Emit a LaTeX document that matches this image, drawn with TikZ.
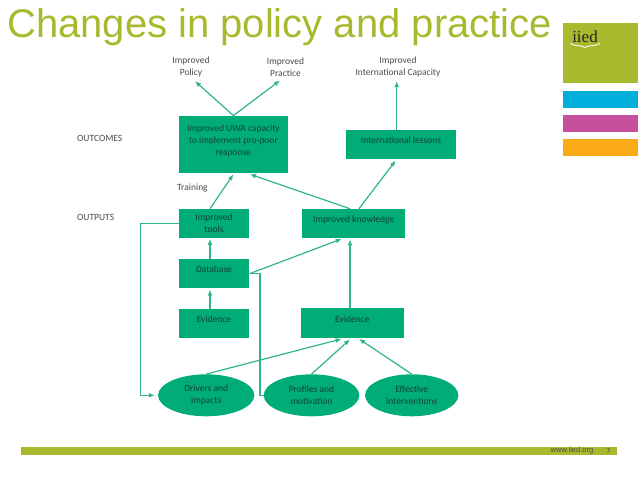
\documentclass[tikz,border=0pt]{standalone}
\usepackage{fontspec}
\usepackage{xcolor}
\setmainfont{Liberation Sans}
\newfontfamily\labelfont{Carlito}
\newfontfamily\logofont{Liberation Serif}
\definecolor{scheme}{HTML}{00AC78}
\definecolor{link}{HTML}{30B48C}
\definecolor{olive}{HTML}{A8B92E}
\definecolor{boxtext}{HTML}{0F4634}
\definecolor{plain}{HTML}{4A4A4A}
\definecolor{bandcyan}{HTML}{00AEDB}
\definecolor{bandpink}{HTML}{C7509E}
\definecolor{bandgold}{HTML}{FBAB18}
\usetikzlibrary{shapes.geometric,arrows.meta}
\tikzset{
	boxnode/.style={fill=scheme,draw=none,inner sep=0pt,align=center,text=boxtext,font=\labelfont\fontsize{9.5}{11.8}\selectfont},
	raised/.style={text depth=8.5pt},
	ovalnode/.style={boxnode,ellipse},
	plainlabel/.style={inner sep=0pt,align=center,text=plain,font=\labelfont\fontsize{9.5}{11.8}\selectfont},
	link/.style={draw=link,line width=1.2pt,-{Latex[length=6pt,width=5pt]}},
	linkplain/.style={draw=link,line width=1.2pt},
	band/.style={fill=#1,draw=none}
}
\begin{document}
\begin{tikzpicture}[x=1pt,y=-1pt]
			\useasboundingbox (0,0) rectangle (638,479);
			\coordinate (loopa) at (140.7,395.3);
			\coordinate (loopb) at (260,395.3);
			
			% slide furniture
			\node (title) at (7,27) [anchor=west,inner sep=0pt,text=olive,font=\fontsize{40}{40}\selectfont] {Changes in policy and practice};
			\fill[band=olive] (562.7,22.7) rectangle (638,82.7);
			\fill[band=bandcyan] (562.7,91) rectangle (638,108);
			\fill[band=bandpink] (562.7,115) rectangle (638,132);
			\fill[band=bandgold] (562.7,139) rectangle (638,156);
			\node (logo) at (585,37) [inner sep=0pt,text=black!85,font=\logofont\fontsize{17}{17}\selectfont] {iied};
			\draw[white,line width=0.9pt] (570,43.5) .. controls (575,46.5) and (582,45) .. (585,47.5) .. controls (588,45) and (595,46.5) .. (600,43.5);
			\fill[band=olive] (21,446.7) rectangle (616.7,455);
			\node (web) at (572,451) [inner sep=0pt,text=black!70,font=\fontsize{7.5}{8}\selectfont] {www.iied.org};
			\node (page) at (608.5,451) [inner sep=0pt,text=black!70,font=\fontsize{7.5}{8}\selectfont] {7};
			
			% side labels
			\node (outcomes) at (77,138) [plainlabel,anchor=west] {OUTCOMES};
			\node (outputs) at (77,217) [plainlabel,anchor=west] {OUTPUTS};
			\node (training) at (177,188) [plainlabel,anchor=west] {Training};
			
			% top labels
			\node (policy) at (191,67) [plainlabel] {Improved\\Policy};
			\node (practice) at (285.5,67) [plainlabel] {Improved\\Practice};
			\node (capacity) at (398,67) [plainlabel] {Improved\\International Capacity};
			
			% boxes
			\node (uwa) at (233.4,144.4) [boxnode,raised,minimum width=109.3pt,minimum height=57.3pt] {Improved UWA capacity\\to implement pro-poor\\response};
			\node (lessons) at (401,144.8) [boxnode,raised,minimum width=109.4pt,minimum height=29pt] {International lessons};
			\node (tools) at (214,223.3) [boxnode,minimum width=70.6pt,minimum height=28.7pt] {Improved\\tools};
			\node (knowledge) at (353.7,223.3) [boxnode,raised,minimum width=102.7pt,minimum height=28.7pt] {Improved knowledge};
			\node (database) at (214,273.7) [boxnode,raised,minimum width=70.6pt,minimum height=29.3pt] {Database};
			\node (evidencea) at (214,323.5) [boxnode,raised,minimum width=70.6pt,minimum height=29pt] {Evidence};
			\node (evidenceb) at (352.4,323) [boxnode,raised,minimum width=102.7pt,minimum height=29.4pt] {Evidence};
			
			% ellipses
			\node (drivers) at (206.2,395.3) [ovalnode,minimum width=96.3pt,minimum height=42pt] {Drivers and\\impacts};
			\node (profiles) at (311.5,395.3) [ovalnode,minimum width=95.6pt,minimum height=42pt] {Profiles and\\motivation};
			\node (effective) at (411.7,395.3) [ovalnode,minimum width=93.3pt,minimum height=42pt] {Effective\\interventions};
			
			% connectors
			\draw[link] (uwa.north) -- ([xshift=4pt,yshift=-4pt]policy.south);
			\draw[link] (uwa.north) -- ([xshift=-5.5pt,yshift=-4pt]practice.south);
			\draw[link] ([xshift=-4.3pt]lessons.north) -- ([xshift=-1.3pt,yshift=-4pt]capacity.south);
			\draw[link] ([xshift=-4pt]tools.north) -- ([yshift=-1pt]uwa.south);
			\draw[link] ([xshift=-3.7pt]knowledge.north) -- ([xshift=16.6pt,yshift=-1pt]uwa.south);
			\draw[link] ([xshift=5.3pt]knowledge.north) -- ([xshift=-5.3pt,yshift=-1pt]lessons.south);
			\draw[link] ([xshift=-4pt]database.north) -- ([xshift=-4pt,yshift=-1pt]tools.south);
			\draw[link] (database.east) -- ([xshift=-12pt,yshift=-1pt]knowledge.south);
			\draw[link] ([xshift=-2.4pt]evidenceb.north) -- ([xshift=-3.7pt,yshift=-1.5pt]knowledge.south);
			\draw[link] ([xshift=-4pt]evidencea.north) -- ([xshift=-4pt,yshift=-1pt]database.south);
			\draw[link] (drivers.north) -- ([xshift=-10.7pt,yshift=-1pt]evidenceb.south);
			\draw[link] (profiles.north) -- ([xshift=-2.4pt,yshift=-1.5pt]evidenceb.south);
			\draw[link] (effective.north) -- ([xshift=6.6pt,yshift=-1pt]evidenceb.south);
			\draw[link,shorten >=3pt] (tools.west) -| (loopa) -- (drivers.west);
			\draw[linkplain] (database.east) -| (loopb) -- (profiles.west);
		\end{tikzpicture}
\end{document}
